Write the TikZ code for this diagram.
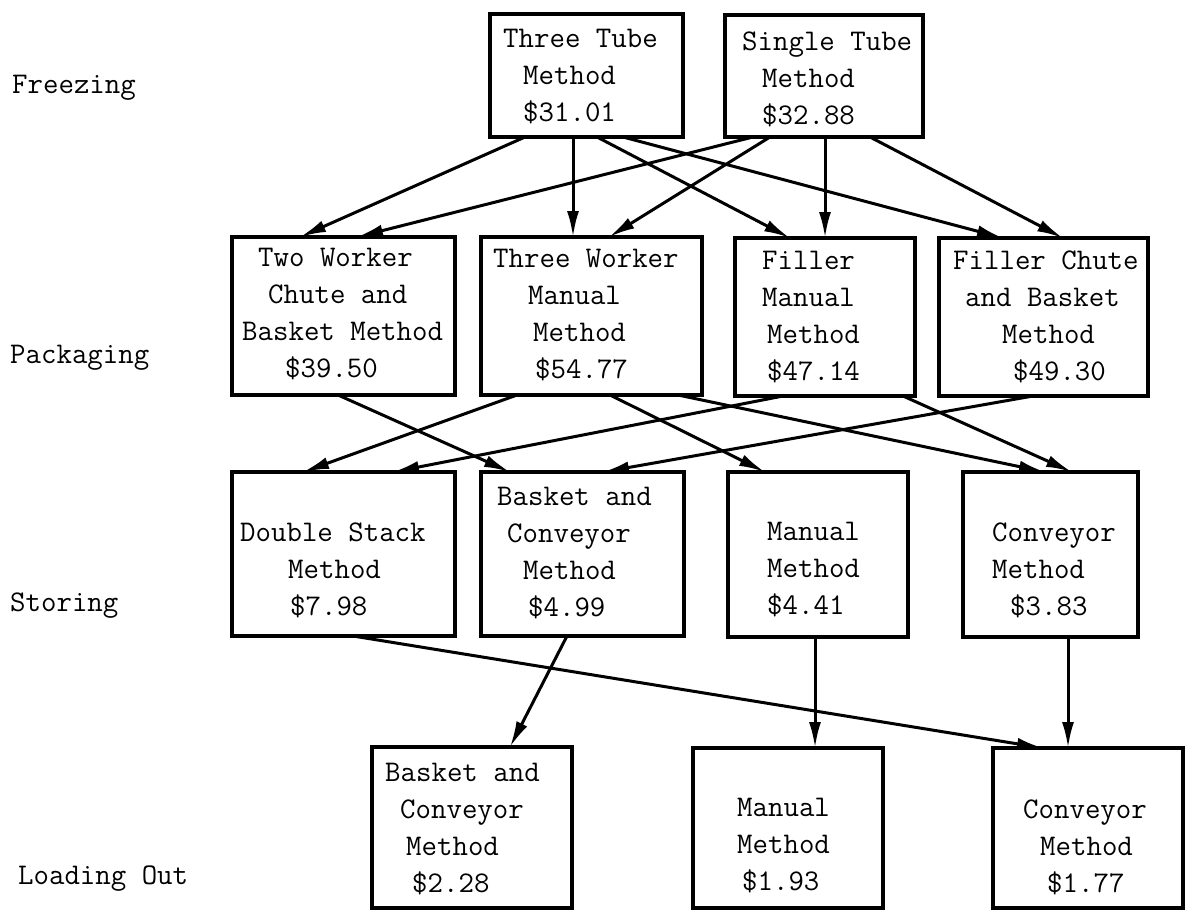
\documentclass[tikz,border=0pt]{standalone}
\usetikzlibrary{arrows.meta}
\begin{document}
\begin{tikzpicture}[x=1pt,y=-1pt,
  box/.style={draw=black,line width=4.5pt,fill=none,inner sep=0pt,outer sep=0pt},
  txt/.style={anchor=west,align=left,inner sep=0pt,font=\fontsize{30}{37}\selectfont\ttfamily},
  arr/.style={line width=3pt,-{Latex[length=26pt,width=12pt]}}]
\useasboundingbox[fill=white] (0,0) rectangle (1186,911);
% row labels
\node[txt] (lf) at (12,88) {Freezing};
\node[txt] (lp) at (10,358) {Packaging};
\node[txt] (ls) at (10,606) {Storing};
\node[txt] (ll) at (18,879) {Loading Out};
% boxes
\node[box,minimum width=193,minimum height=123] (tt)  at (586.5,75.5) {};
\node[box,minimum width=198,minimum height=122] (st)  at (824,76) {};
\node[box,minimum width=223,minimum height=158] (tw)  at (343.5,316) {};
\node[box,minimum width=221,minimum height=158] (thw) at (591.5,316) {};
\node[box,minimum width=180,minimum height=158] (fm)  at (825,317) {};
\node[box,minimum width=209,minimum height=158] (fc)  at (1043.5,317) {};
\node[box,minimum width=223,minimum height=164] (ds)  at (343.5,554) {};
\node[box,minimum width=203,minimum height=164] (bcs) at (582.5,554) {};
\node[box,minimum width=180,minimum height=165] (ms)  at (818,554.5) {};
\node[box,minimum width=175,minimum height=165] (cs)  at (1050.5,554.5) {};
\node[box,minimum width=200,minimum height=161] (bcl) at (472,827.5) {};
\node[box,minimum width=190,minimum height=160] (ml)  at (788,828) {};
\node[box,minimum width=190,minimum height=160] (cl)  at (1088,828) {};
% texts
\node[txt] (ttT) at (503,77) {Three Tube\\\hspace*{20pt}Method\\\hspace*{20pt}\$31.01};
\node[txt] (stT) at (742,79) {Single Tube\\\hspace*{20pt}Method\\\hspace*{20pt}\$32.88};
\node[txt] (twT) at (242,314) {\hspace*{16pt}Two Worker\\\hspace*{26pt}Chute and\\Basket Method\\\hspace*{43pt}\$39.50};
\node[txt] (thwT) at (493,315) {Three Worker\\\hspace*{35pt}Manual\\\hspace*{40pt}Method\\\hspace*{42pt}\$54.77};
\node[txt] (fmT) at (762,317) {Filler\\Manual\\\hspace*{5pt}Method\\\hspace*{5pt}\$47.14};
\node[txt] (fcT) at (953,317) {Filler Chute\\\hspace*{12pt}and Basket\\\hspace*{49pt}Method\\\hspace*{60pt}\$49.30};
\node[txt] (dsT) at (240,570) {Double Stack\\\hspace*{48pt}Method\\\hspace*{50pt}\$7.98};
\node[txt] (bcsT) at (497,553) {Basket and\\\hspace*{10pt}Conveyor\\\hspace*{26pt}Method\\\hspace*{31pt}\$4.99};
\node[txt] (msT) at (767,570) {Manual\\Method\\\$4.41};
\node[txt] (csT) at (992,570) {Conveyor\\Method\\\hspace*{18pt}\$3.83};
\node[txt] (bclT) at (385,829) {Basket and\\\hspace*{15pt}Conveyor\\\hspace*{21pt}Method\\\hspace*{27pt}\$2.28};
\node[txt] (mlT) at (737,846) {Manual\\Method\\\hspace*{5pt}\$1.93};
\node[txt] (clT) at (1023,847) {Conveyor\\\hspace*{17pt}Method\\\hspace*{24pt}\$1.77};
% freezing -> packaging
\draw[arr] ([xshift=35pt]tt.south west) -- ([xshift=68pt]tw.north west);
\draw[arr] ([xshift=83pt]tt.south west) -- ([xshift=92pt]thw.north west);
\draw[arr] ([xshift=107pt]tt.south west) -- ([xshift=55pt]fm.north west);
\draw[arr] ([xshift=133pt]tt.south west) -- ([xshift=64pt]fc.north west);
\draw[arr] ([xshift=28pt]st.south west) -- ([xshift=125pt]tw.north west);
\draw[arr] ([xshift=45pt]st.south west) -- ([xshift=128pt]thw.north west);
\draw[arr] ([xshift=100pt]st.south west) -- ([xshift=90pt]fm.north west);
\draw[arr] ([xshift=145pt]st.south west) -- ([xshift=124pt]fc.north west);
% packaging -> storing
\draw[arr] ([xshift=106pt]tw.south west) -- ([xshift=29pt]bcs.north west);
\draw[arr] ([xshift=36pt]thw.south west) -- ([xshift=71pt]ds.north west);
\draw[arr] ([xshift=48pt]fm.south west) -- ([xshift=161pt]ds.north west);
\draw[arr] ([xshift=129pt]thw.south west) -- ([xshift=37pt]ms.north west);
\draw[arr] ([xshift=197pt]thw.south west) -- ([xshift=82pt]cs.north west);
\draw[arr] ([xshift=168pt]fm.south west) -- ([xshift=109pt]cs.north west);
\draw[arr] ([xshift=94pt]fc.south west) -- ([xshift=122pt]bcs.north west);
% storing -> loading out
\draw[arr] ([xshift=121pt]ds.south west) -- ([xshift=50pt]cl.north west);
\draw[arr] ([xshift=86pt]bcs.south west) -- ([xshift=138pt]bcl.north west);
\draw[arr] ([xshift=87pt]ms.south west) -- ([xshift=122pt]ml.north west);
\draw[arr] ([xshift=105pt]cs.south west) -- ([xshift=75pt]cl.north west);
\end{tikzpicture}
\end{document}
